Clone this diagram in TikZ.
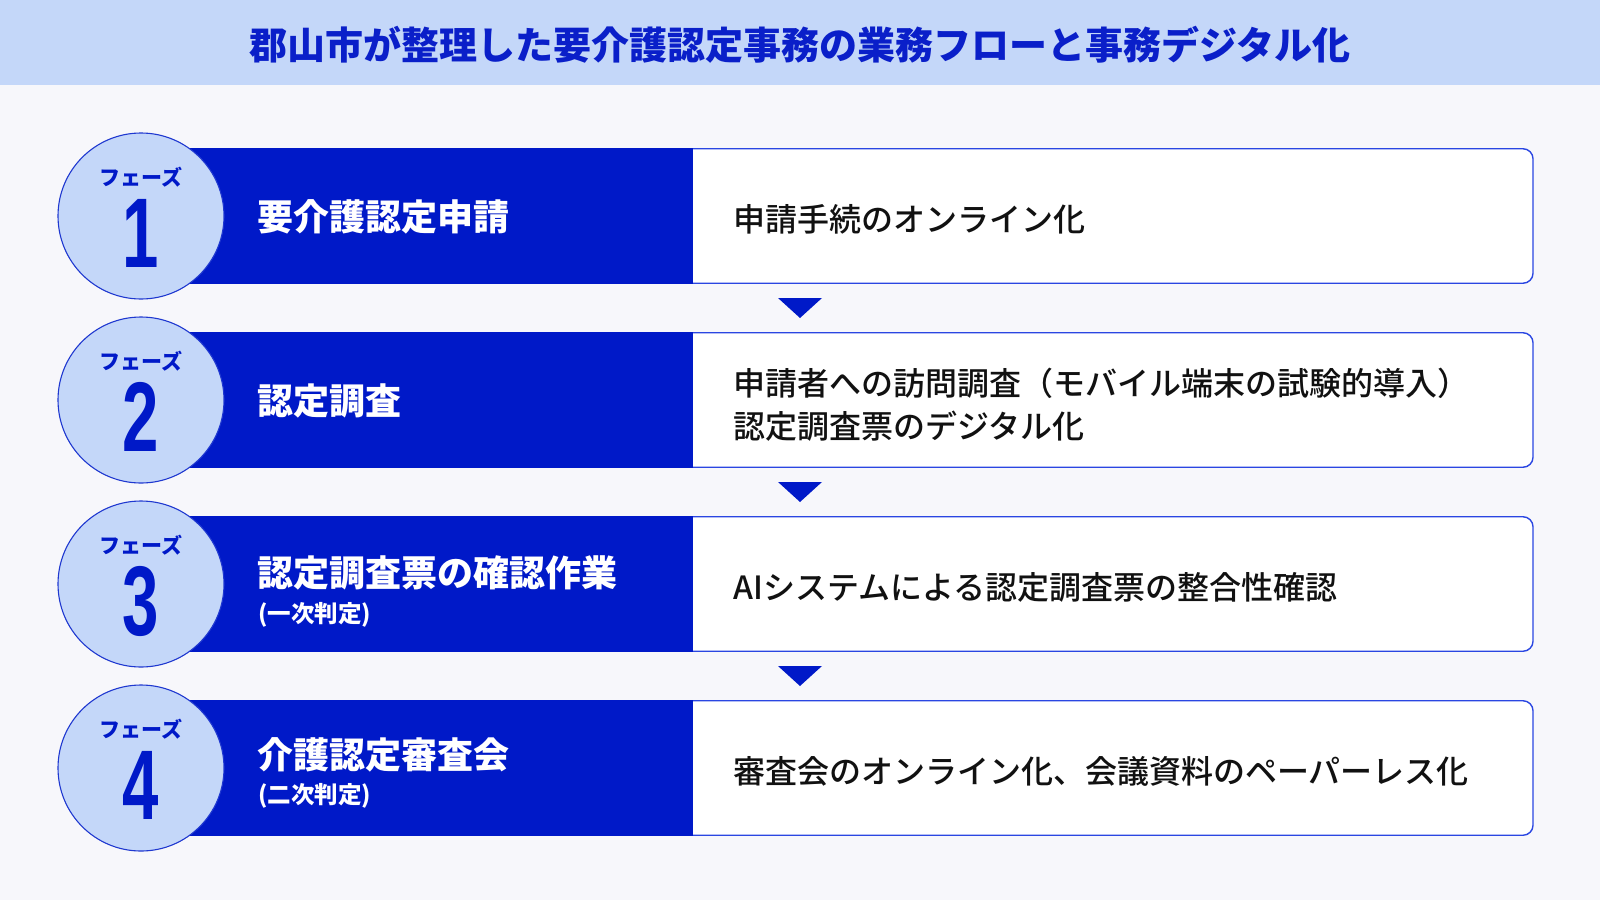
\documentclass[tikz,border=0pt]{standalone}
\usepackage{fontspec}
\setmainfont{Noto Sans CJK JP}
\IfFontExistsTF{Noto Sans CJK JP Medium}
  {\newfontfamily\bodyfont{Noto Sans CJK JP Medium}}
  {\newfontfamily\bodyfont{Noto Sans CJK JP}}
\newfontfamily\digitfont{Liberation Sans}
\usetikzlibrary{calc}
\definecolor{bgc}{HTML}{F7F7FB}
\definecolor{headc}{HTML}{C4D7F9}
\definecolor{deepblue}{HTML}{0019C8}
\definecolor{titleblue}{HTML}{0A1FC9}
\definecolor{edgeblue}{HTML}{2A46E2}
\definecolor{circedge}{HTML}{1F38D0}
\definecolor{textdark}{HTML}{111111}
\tikzset{
  rowbox/.style={draw=edgeblue, line width=1.4pt, fill=white, rounded corners=10pt,
    minimum width=1392pt, minimum height=134.5pt, inner sep=0pt},
  bluebox/.style={fill=deepblue, minimum width=552pt, minimum height=135.5pt, inner sep=0pt, anchor=west},
  phasecircle/.style={circle, fill=headc, draw=circedge, line width=1.1pt, minimum size=166pt, inner sep=0pt},
  phaseword/.style={text=deepblue, font=\bfseries\fontsize{21}{25}\selectfont, inner sep=0pt},
  phasenum/.style={text=deepblue, font=\digitfont\bfseries\fontsize{99}{100}\selectfont, inner sep=0pt},
  lefttext/.style={text=white, font=\bfseries\fontsize{36}{42}\selectfont, anchor=west, inner sep=0pt},
  leftsub/.style={text=white, font=\bfseries\fontsize{23.5}{26}\selectfont, anchor=west, inner sep=0pt},
  righttext/.style={text=textdark, font=\bodyfont\fontsize{32}{43}\selectfont, anchor=west, inner sep=0pt, align=left},
  titletext/.style={text=titleblue, font=\bfseries\fontsize{38}{44}\selectfont, inner sep=0pt},
  downmark/.style={fill=deepblue}
}
\newcommand{\narrowdigit}[1]{\scalebox{0.66}[1]{#1}}
\begin{document}
\begin{tikzpicture}[x=1pt,y=-1pt]
\useasboundingbox (0,0) rectangle (1600,900);
\fill[bgc] (0,0) rectangle (1600,900);
\fill[headc] (0,0) rectangle (1600,85);
\node[titletext] (title) at (800,45) {郡山市が整理した要介護認定事務の業務フローと事務デジタル化};

% rows
\foreach \i/\c in {1/216,2/400,3/584,4/768}{
  \node[rowbox] (row\i) at (837,\c) {};
  \node[bluebox] (blue\i) at (141,\c) {};
  \node[phasecircle] (circ\i) at (141,\c) {};
  \node[phaseword] (pw\i) at (141,\c-39) {フェーズ};
  \node[phasenum] (pn\i) at (141,\c+17) {\narrowdigit{\i}};
}

% left labels
\node[lefttext] (l1) at (257,217) {要介護認定申請};
\node[lefttext] (l2) at (257,401) {認定調査};
\node[lefttext] (l3) at (257,573) {認定調査票の確認作業};
\node[leftsub] (s3) at (258,615) {(一次判定)};
\node[lefttext] (l4) at (257,755) {介護認定審査会};
\node[leftsub] (s4) at (258,796) {(二次判定)};

% right texts
\node[righttext] (r1) at (733,219) {申請手続のオンライン化};
\node[righttext] (r2) at (733,405) {申請者への訪問調査（モバイル端末の試験的導入）\\認定調査票のデジタル化};
\node[righttext] (r3) at (733,587) {AIシステムによる認定調査票の整合性確認};
\node[righttext] (r4) at (733,771) {審査会のオンライン化、会議資料のペーパーレス化};

% down markers between rows
\foreach \a/\b in {1/2,2/3,3/4}{
  \coordinate (m\a) at ($(row\a.south)!0.5!(row\b.north)$);
  \fill[downmark] ($(m\a)+(-59,-10)$) -- ($(m\a)+(-15,-10)$) -- ($(m\a)+(-37,10)$) -- cycle;
}
\end{tikzpicture}
\end{document}
